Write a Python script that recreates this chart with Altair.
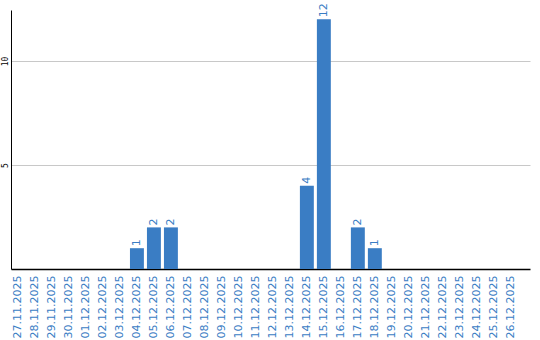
import altair as alt
import pandas as pd

dates = ["27.11.2025", "28.11.2025", "29.11.2025", "30.11.2025", "01.12.2025",
         "02.12.2025", "03.12.2025", "04.12.2025", "05.12.2025", "06.12.2025",
         "07.12.2025", "08.12.2025", "09.12.2025", "10.12.2025", "11.12.2025",
         "12.12.2025", "13.12.2025", "14.12.2025", "15.12.2025", "16.12.2025",
         "17.12.2025", "18.12.2025", "19.12.2025", "20.12.2025", "21.12.2025",
         "22.12.2025", "23.12.2025", "24.12.2025", "25.12.2025", "26.12.2025"]
values = [0, 0, 0, 0, 0, 0, 0, 1, 2, 2, 0, 0, 0, 0, 0, 0, 0, 4, 12, 0,
          2, 1, 0, 0, 0, 0, 0, 0, 0, 0]

df = pd.DataFrame({"date": dates, "value": values})
df["label"] = df["value"].apply(lambda v: str(v) if v > 0 else "")

BLUE = "#3a7dc4"

x = alt.X("date:N", sort=dates, title=None,
          scale=alt.Scale(paddingInner=0.18, paddingOuter=0.36, align=0),
          axis=alt.Axis(labelAngle=270, labelAlign="right", labelBaseline="middle",
                        labelColor=BLUE, labelFont="DejaVu Sans", labelFontSize=11,
                        labelPadding=6, ticks=False, domainColor="#000000",
                        domainWidth=1.5, grid=False, labelOverlap=False))
y = alt.Y("value:Q", title=None,
          scale=alt.Scale(domain=[0, 12.45], nice=False),
          axis=alt.Axis(values=[5, 10], labelAngle=270, labelAlign="center",
                        labelBaseline="bottom", labelColor="#000000",
                        labelFont="DejaVu Sans Mono", labelFontSize=8,
                        labelPadding=2, ticks=False, domainColor="#000000",
                        domainWidth=1, grid=True, gridColor="#c8c8c8",
                        gridWidth=1))

bars = alt.Chart(df).mark_bar(color=BLUE).encode(x=x, y=y)
text = alt.Chart(df).mark_text(angle=270, align="left", baseline="middle",
                               dx=2, color=BLUE, font="DejaVu Sans",
                               fontSize=11).encode(
    x=alt.X("date:N", sort=dates), y="value:Q", text="label:N")

chart = alt.layer(bars, text).properties(
    width=519, height=259,
    background="white",
    autosize=alt.AutoSizeParams(type="none"),
    padding={"left": 11, "top": 10, "right": 10, "bottom": 71},
).configure_view(stroke=None)

chart.save("out.html", embed_options={"renderer": "svg", "actions": False})
